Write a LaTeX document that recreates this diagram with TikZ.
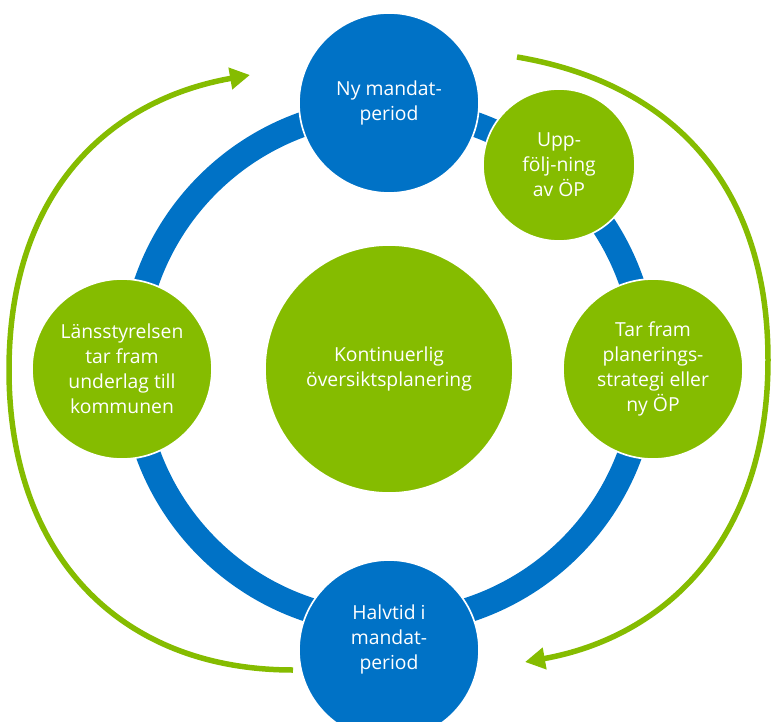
\documentclass[tikz,border=0pt]{standalone}
\usepackage{fontspec}
\setmainfont{Open Sans}
\usetikzlibrary{positioning,arrows.meta}
\definecolor{kblue}{RGB}{0,114,198}
\definecolor{kgreen}{RGB}{133,188,0}

\begin{document}
\begin{tikzpicture}[x=0.03cm,y=-0.03cm,on grid,
    phase/.style={circle,draw=white,line width=0.05cm,inner sep=0pt,text=white,align=center,
      font=\fontsize{16.5}{21.3}\selectfont},
    milestone/.style={phase,fill=kblue,minimum size=5.4cm},
    task/.style={phase,fill=kgreen,minimum size=5.4cm},
    cyclearrow/.style={kgreen,line width=0.165cm,-{Triangle[length=0.6cm,width=0.63cm]}}
    ]
   \useasboundingbox (0,0) rectangle (773,722);
   \clip (0,0) rectangle (773,722);

   \draw[kblue,line width=0.75cm] (389,366) circle[radius=256.5];

   \node(c) [phase,fill=kgreen,minimum size=7.44cm] at (389,369) {Kontinuerlig\\översiktsplanering};

   \node(t) [above=7.98cm of c,milestone] {Ny mandat-\\period};
   \node(b) [below=8.43cm of c,milestone,text depth=22pt] {Halvtid i\\mandat-\\period};
   \node(l) [left=8.01cm of c,task] {Länsstyrelsen\\tar fram\\underlag till\\kommunen};
   \node(r) [right=7.92cm of c,task] {Tar fram\\planerings-\\strategi eller\\ny ÖP};
   \node(u) [above right=6.12cm and 5.1cm of c,phase,fill=kgreen,minimum size=4.56cm] {Upp-\\följ-ning\\av ÖP};

   \coordinate (la) at (293,670);
   \coordinate (lm) at (9,370);
   \coordinate (lb) at (250,75);
   \coordinate (ra) at (517,57);
   \coordinate (rm) at (768,360);
   \coordinate (rb) at (525,662);

   \draw[cyclearrow] (la) .. controls (118,670) and (9,553) .. (lm) .. controls (9,193) and (108,100) .. (lb);
   \draw[cyclearrow] (ra) .. controls (665,82) and (768,178) .. (rm) .. controls (768,540) and (665,637) .. (rb);

\end{tikzpicture}
\end{document}
